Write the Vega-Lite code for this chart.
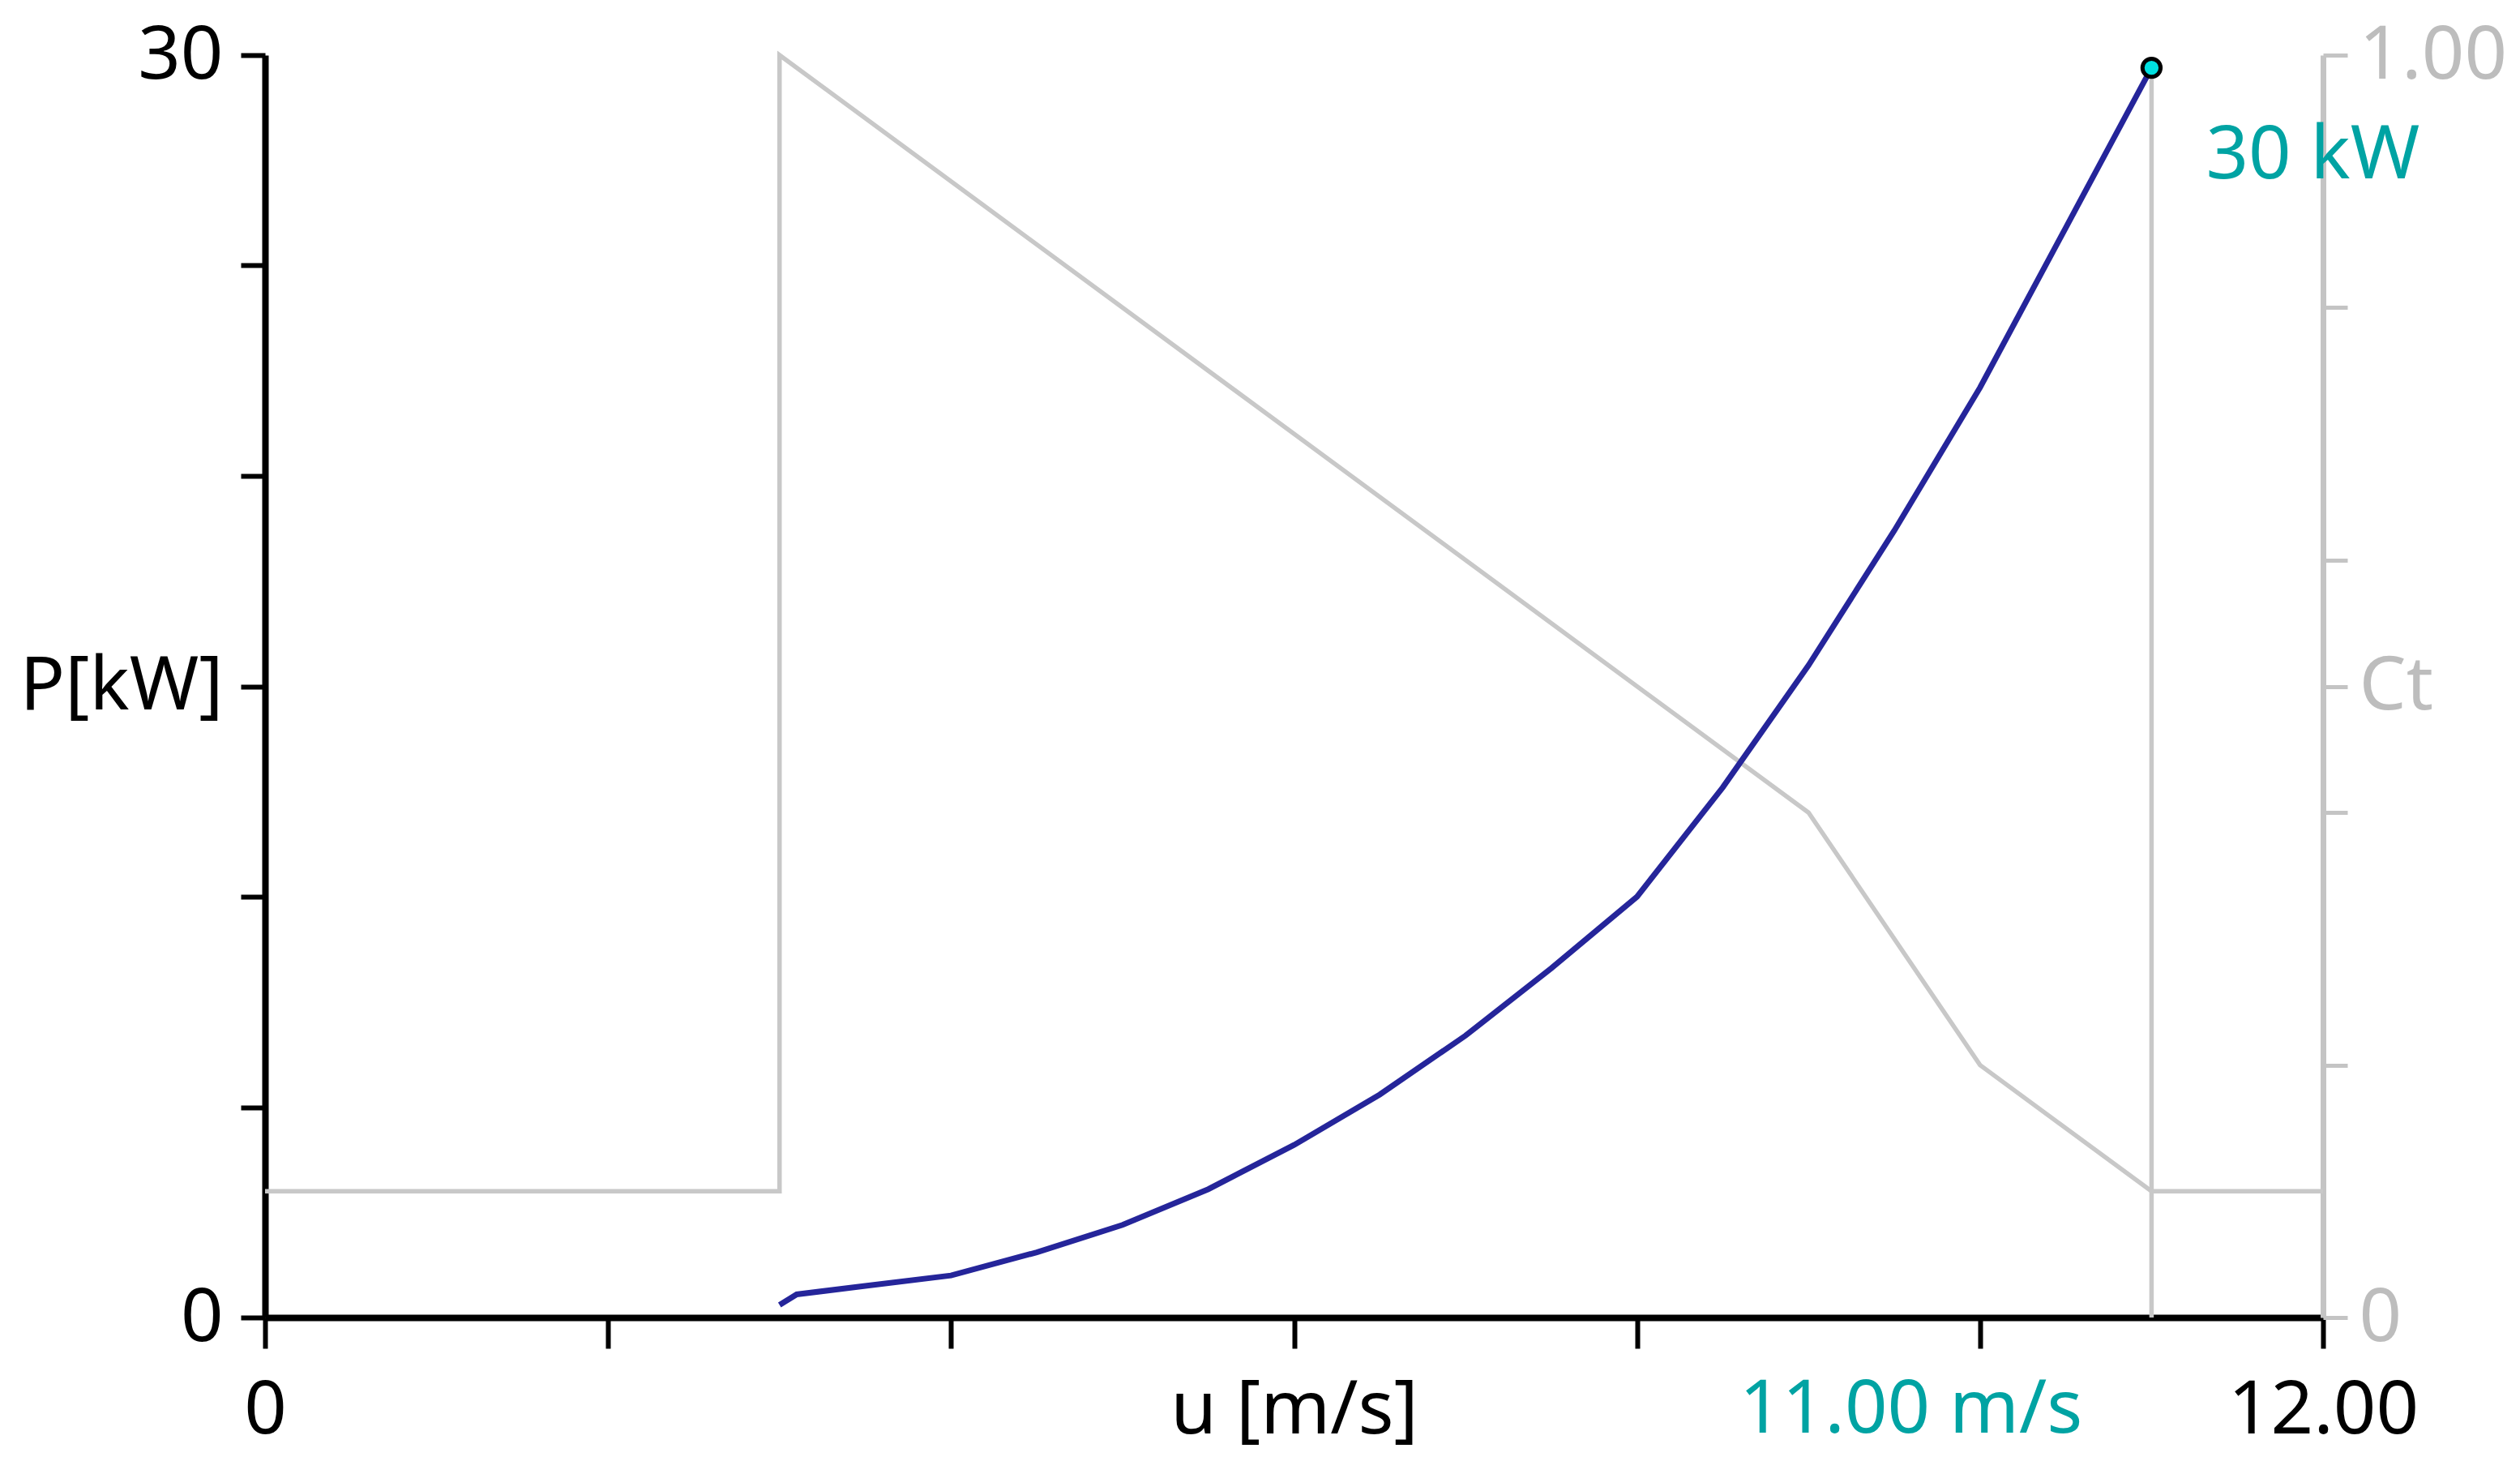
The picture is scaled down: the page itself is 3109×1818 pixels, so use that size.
{
  "$schema": "https://vega.github.io/schema/vega-lite/v6.json",
  "width": 2539,
  "height": 1557,
  "autosize": "none",
  "padding": {"left": 327, "top": 68, "right": 243, "bottom": 193},
  "background": "white",
  "config": {
    "view": {"stroke": null},
    "font": "Noto Sans",
    "axis": {"grid": false, "labelFont": "Noto Sans", "labelFontSize": 92, "labelFlush": false, "labelOverlap": false, "labelBound": false, "labelLimit": 0}
  },
  "datasets": {
    "power": [
      {"u": 3.0, "P": 0.3},
      {"u": 3.1, "P": 0.55},
      {"u": 3.5, "P": 0.75},
      {"u": 4.0, "P": 1.0},
      {"u": 4.5, "P": 1.55},
      {"u": 5.0, "P": 2.2},
      {"u": 5.5, "P": 3.05},
      {"u": 6.0, "P": 4.1},
      {"u": 6.5, "P": 5.3},
      {"u": 7.0, "P": 6.7},
      {"u": 7.5, "P": 8.3},
      {"u": 8.0, "P": 10.0},
      {"u": 8.5, "P": 12.6},
      {"u": 9.0, "P": 15.5},
      {"u": 9.5, "P": 18.7},
      {"u": 10.0, "P": 22.1},
      {"u": 10.5, "P": 25.9},
      {"u": 11.0, "P": 29.7}
    ],
    "ct": [
      {"ord": 1, "u": 0, "Ct": 0.1},
      {"ord": 2, "u": 3, "Ct": 0.1},
      {"ord": 3, "u": 3, "Ct": 1.0},
      {"ord": 4, "u": 9, "Ct": 0.4},
      {"ord": 5, "u": 10, "Ct": 0.2},
      {"ord": 6, "u": 11, "Ct": 0.1},
      {"ord": 7, "u": 12, "Ct": 0.1}
    ],
    "cursor": [
      {"u": 11, "P": 29.7, "base": 0, "Plabel": "30 kW", "ulabel": "11.00 m/s"}
    ]
  },
  "layer": [
    {
      "data": {"name": "ct"},
      "mark": {"type": "line", "color": "#c8c8c8", "strokeWidth": 5.5},
      "encoding": {
        "x": {
          "field": "u", "type": "quantitative",
          "scale": {"domain": [0, 12], "nice": false, "zero": false},
          "axis": {
            "orient": "bottom", "title": null,
            "values": [0, 2, 4, 6, 8, 10, 12],
            "labelExpr": "datum.value==0?'0':datum.value==6?'u [m/s]':datum.value==12?'12.00':''",
            "domainColor": "black", "domainWidth": 8,
            "tickColor": "black", "tickWidth": 6, "tickSize": 38,
            "labelPadding": 76, "labelBaseline": "middle", "labelColor": "black",
            "encode": {"labels": {"update": {"dx": {"signal": "datum.value==0?20:0"}}}}
          }
        },
        "y": {
          "field": "Ct", "type": "quantitative",
          "scale": {"domain": [0, 1], "nice": false},
          "axis": {
            "orient": "right", "title": null,
            "values": [0, 0.2, 0.4, 0.5, 0.6, 0.8, 1],
            "labelExpr": "datum.value==1?'1.00':datum.value==0.5?'Ct':datum.value==0?'0':''",
            "domainColor": "#c4c4c4", "domainWidth": 7,
            "tickColor": "#c4c4c4", "tickWidth": 5, "tickSize": 30,
            "encode": {"ticks": {"update": {"opacity": {"signal": "datum.value==0.5?0:1"}}}},
            "labelColor": "#bdbdbd", "labelPadding": 14, "labelBaseline": "middle"
          }
        },
        "order": {"field": "ord", "type": "quantitative"}
      }
    },
    {
      "data": {"name": "cursor"},
      "mark": {"type": "rule", "color": "#c8c8c8", "strokeWidth": 5.5},
      "encoding": {
        "x": {"field": "u", "type": "quantitative"},
        "y": {"field": "base", "type": "quantitative", "scale": {"domain": [0, 30], "nice": false}, "axis": null},
        "y2": {"field": "P"}
      }
    },
    {
      "data": {"name": "power"},
      "mark": {"type": "line", "color": "#25259a", "strokeWidth": 7},
      "encoding": {
        "x": {"field": "u", "type": "quantitative"},
        "y": {
          "field": "P", "type": "quantitative",
          "scale": {"domain": [0, 30], "nice": false},
          "axis": {
            "orient": "left", "title": null,
            "values": [0, 5, 10, 15, 20, 25, 30],
            "labelExpr": "datum.value==30?'30':datum.value==15?'P[kW]':datum.value==0?'0':''",
            "domainColor": "black", "domainWidth": 8,
            "tickColor": "black", "tickWidth": 6, "tickSize": 30,
            "labelPadding": 22, "labelColor": "black", "labelBaseline": "middle"
          }
        }
      }
    },
    {
      "data": {"name": "cursor"},
      "mark": {"type": "point", "shape": "circle", "filled": true, "fill": "#00e0e0", "stroke": "black", "strokeWidth": 5, "size": 500, "opacity": 1},
      "encoding": {
        "x": {"field": "u", "type": "quantitative"},
        "y": {"field": "P", "type": "quantitative", "scale": {"domain": [0, 30], "nice": false}, "axis": null}
      }
    },
    {
      "data": {"name": "cursor"},
      "mark": {"type": "text", "color": "#00a3a3", "font": "Noto Sans", "fontSize": 92, "align": "left", "baseline": "middle", "dx": 67, "dy": 108},
      "encoding": {
        "x": {"field": "u", "type": "quantitative"},
        "y": {"field": "P", "type": "quantitative", "scale": {"domain": [0, 30], "nice": false}, "axis": null},
        "text": {"field": "Plabel"}
      }
    },
    {
      "data": {"name": "cursor"},
      "mark": {"type": "text", "color": "#00a3a3", "font": "Noto Sans", "fontSize": 92, "align": "right", "baseline": "middle", "dx": -85, "dy": 114},
      "encoding": {
        "x": {"field": "u", "type": "quantitative"},
        "y": {"field": "base", "type": "quantitative", "scale": {"domain": [0, 30], "nice": false}, "axis": null},
        "text": {"field": "ulabel"}
      }
    }
  ],
  "resolve": {"scale": {"y": "independent"}}
}
